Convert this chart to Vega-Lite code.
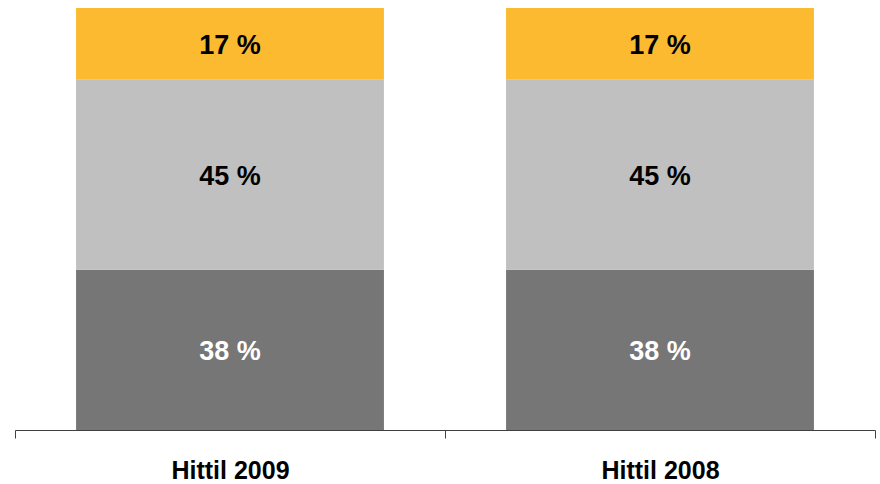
{
  "$schema": "https://vega.github.io/schema/vega-lite/v6.json",
  "width": 860,
  "height": 422,
  "autosize": {"type": "none"},
  "padding": {"left": 15, "top": 8, "right": 5, "bottom": 54},
  "background": "white",
  "config": {"view": {"stroke": null}, "font": "Liberation Sans"},
  "data": {
    "values": [
      {"period": "Hittil 2009", "seg": "Andel 1", "rank": 1, "value": 38},
      {"period": "Hittil 2009", "seg": "Andel 2", "rank": 2, "value": 45},
      {"period": "Hittil 2009", "seg": "Andel 3", "rank": 3, "value": 17},
      {"period": "Hittil 2008", "seg": "Andel 1", "rank": 1, "value": 38},
      {"period": "Hittil 2008", "seg": "Andel 2", "rank": 2, "value": 45},
      {"period": "Hittil 2008", "seg": "Andel 3", "rank": 3, "value": 17}
    ]
  },
  "encoding": {
    "x": {
      "field": "period", "type": "nominal", "sort": ["Hittil 2009", "Hittil 2008"],
      "scale": {"paddingInner": 0, "paddingOuter": 0},
      "axis": {
        "title": null, "labelAngle": 0, "tickBand": "extent",
        "domainColor": "#404040", "tickColor": "#404040", "tickSize": 8,
        "labelFont": "Liberation Sans", "labelFontSize": 25, "labelFontWeight": "bold",
        "labelColor": "black", "labelBaseline": "middle", "labelPadding": 32
      }
    },
    "y": {
      "field": "value", "type": "quantitative", "stack": "zero",
      "scale": {"domain": [0, 100], "nice": false},
      "axis": null
    },
    "order": {"field": "rank", "type": "quantitative"}
  },
  "layer": [
    {
      "mark": {"type": "bar", "width": {"band": 0.716}},
      "encoding": {
        "color": {
          "field": "seg", "type": "nominal", "legend": null,
          "scale": {"domain": ["Andel 1", "Andel 2", "Andel 3"], "range": ["#767677", "#c0c0c0", "#fbba30"]}
        }
      }
    },
    {
      "transform": [{"calculate": "datum.value + ' %'", "as": "label"}],
      "mark": {"type": "text", "font": "Liberation Sans", "fontSize": 27, "fontWeight": "bold", "baseline": "middle", "dy": 2},
      "encoding": {
        "y": {"field": "value", "type": "quantitative", "stack": "zero", "bandPosition": 0.5},
        "detail": {"field": "seg"},
        "text": {"field": "label", "type": "nominal"},
        "color": {"condition": {"test": "datum.seg === 'Andel 1'", "value": "white"}, "value": "black"}
      }
    }
  ]
}
